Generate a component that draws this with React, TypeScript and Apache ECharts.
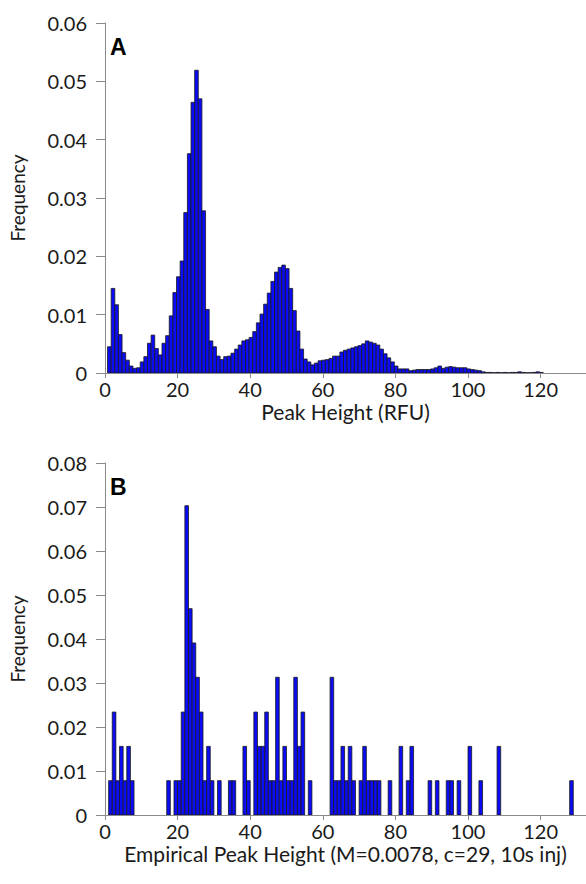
import React, { useEffect, useRef } from 'react';
import * as echarts from 'echarts';

// Panel A: simulated peak-height histogram (bins of 1 RFU, starting at bin 1)
const binStartA = 1;
const freqA = [
  0.0045, 0.0145, 0.0117, 0.0066, 0.0035, 0.0022, 0.0012, 0.0008, 0.0009, 0.0019,
  0.0028, 0.0051, 0.0065, 0.0042, 0.0031, 0.0051, 0.0064, 0.0098, 0.0138, 0.0165,
  0.0192, 0.0275, 0.0376, 0.0464, 0.0519, 0.0470, 0.0278, 0.0109, 0.0055, 0.0045,
  0.0029, 0.0023, 0.0028, 0.0029, 0.0034, 0.0041, 0.0048, 0.0055, 0.0057, 0.0061,
  0.0071, 0.0086, 0.0101, 0.0118, 0.0137, 0.0157, 0.0173, 0.0181, 0.0185, 0.0179,
  0.0145, 0.0107, 0.0072, 0.0041, 0.0024, 0.0019, 0.0014, 0.0017, 0.0021, 0.0022,
  0.0023, 0.0025, 0.0029, 0.0029, 0.0036, 0.0039, 0.0041, 0.0043, 0.0045, 0.0047,
  0.0050, 0.0055, 0.0053, 0.0051, 0.0048, 0.0041, 0.0033, 0.0026, 0.0019, 0.0012,
  0.0007, 0.0007, 0.0007, 0.0004, 0.0005, 0.0006, 0.0006, 0.0006, 0.0006, 0.0007,
  0.0009, 0.0012, 0.0008, 0.0010, 0.0011, 0.0010, 0.0009, 0.0009, 0.0009, 0.0007,
  0.0006, 0.0005, 0.0004, 0.0002, 0.0001, 0.0001, 0.00005, 0.0001, 0.00005, 0.0001,
  0.00005, 0.0001, 0.0001, 0.0002, 0.0001, 0.00005, 0.00005, 0.0001, 0.0002, 0.0001,
];

// Panel B: empirical peak heights (bin left edges and frequencies)
const binsB = [
  1, 2, 3, 4, 5, 6, 7, 17, 19, 20, 21, 22, 23, 24, 25, 26, 27, 28, 29, 31,
  34, 35, 38, 39, 41, 42, 43, 44, 45, 46, 47, 48, 49, 50, 51, 52, 53, 54, 56,
  62, 63, 64, 65, 66, 67, 68, 70, 71, 72, 73, 74, 75, 78, 81, 83, 84, 89, 91,
  94, 95, 97, 100, 103, 108, 128,
];
const freqB = [
  0.0078, 0.0234, 0.0078, 0.0156, 0.0078, 0.0156, 0.0078, 0.0078, 0.0078, 0.0078,
  0.0234, 0.0703, 0.0469, 0.0391, 0.0313, 0.0234, 0.0078, 0.0156, 0.0078, 0.0078,
  0.0078, 0.0078, 0.0156, 0.0078, 0.0234, 0.0156, 0.0156, 0.0234, 0.0078, 0.0078,
  0.0313, 0.0078, 0.0156, 0.0078, 0.0078, 0.0313, 0.0156, 0.0234, 0.0078,
  0.0313, 0.0078, 0.0078, 0.0156, 0.0078, 0.0156, 0.0078, 0.0078, 0.0156, 0.0078,
  0.0078, 0.0078, 0.0078, 0.0078, 0.0156, 0.0078, 0.0156, 0.0078, 0.0078,
  0.0078, 0.0078, 0.0078, 0.0156, 0.0078, 0.0156, 0.0078,
];

const yMaxA = 0.06;
const yMaxB = 0.08;
const yStep = 0.01;
const xMax = 132.5;
const xStep = 20;
const titleA = 'Peak Height (RFU)';
const titleB = 'Empirical Peak Height (M=0.0078, c=29, 10s inj)';
const yTitle = 'Frequency';

const FONT = 'Lato';
const AXIS_COLOR = '#8a8a8a';
const TEXT_COLOR = '#1a1a1a';

const makeRender = (lo: number, hi: number) => (params: any, api: any) => {
  const x = api.value(0);
  const y = api.value(1);
  const p0 = api.coord([x + lo, y]);
  const p1 = api.coord([x + hi, 0]);
  return {
    type: 'rect',
    shape: { x: p0[0], y: p0[1], width: p1[0] - p0[0], height: p1[1] - p0[1] },
    style: { fill: '#0b0bf5', stroke: '#1a1a1a', lineWidth: 0.8 },
  };
};

export default function App() {
  const ref = useRef<HTMLDivElement>(null);
  useEffect(() => {
    const chart = echarts.init(ref.current!, null, { renderer: 'svg' });
    const dataA = freqA.map((v, i) => [binStartA + i, v]);
    const dataB = binsB.map((b, i) => [b, freqB[i]]);

    const xAxisBase = (gridIndex: number, name: string) => ({
      type: 'value',
      gridIndex,
      min: 0,
      max: xMax,
      interval: xStep,
      name,
      nameLocation: 'middle',
      nameGap: 28,
      nameTextStyle: { fontFamily: FONT, fontSize: 21, color: TEXT_COLOR },
      axisLine: { show: true, onZero: false, lineStyle: { color: AXIS_COLOR, width: 1 } },
      axisTick: { show: true, length: 5, lineStyle: { color: AXIS_COLOR } },
      axisLabel: {
        fontFamily: FONT,
        fontSize: 20,
        color: TEXT_COLOR,
        margin: 6,
        showMaxLabel: false,
        formatter: (v: number) => (v % xStep === 0 ? String(v) : ''),
      },
      splitLine: { show: false },
    });
    const topAxis = (gridIndex: number) => ({
      type: 'value',
      gridIndex,
      position: 'top',
      min: 0,
      max: xMax,
      axisLine: { show: true, lineStyle: { color: AXIS_COLOR, width: 1 } },
      axisTick: { show: false },
      axisLabel: { show: false },
      splitLine: { show: false },
    });
    const yAxisBase = (gridIndex: number, max: number) => ({
      type: 'value',
      gridIndex,
      min: 0,
      max,
      interval: yStep,
      name: yTitle,
      nameLocation: 'middle',
      nameGap: 78,
      nameTextStyle: { fontFamily: FONT, fontSize: 19, color: TEXT_COLOR },
      axisLine: { show: true, lineStyle: { color: AXIS_COLOR, width: 1 } },
      axisTick: { show: true, length: 9, lineStyle: { color: AXIS_COLOR } },
      axisLabel: {
        fontFamily: FONT,
        fontSize: 20,
        color: TEXT_COLOR,
        margin: 18,
        formatter: (v: number) => (v === 0 ? '0' : v.toFixed(2)),
      },
      splitLine: { show: false },
    });

    chart.setOption({
      animation: false,
      backgroundColor: '#ffffff',
      grid: [
        { left: 99, top: 23, right: 0, height: 350 },
        { left: 99, top: 463, right: 0, height: 352 },
      ],
      xAxis: [xAxisBase(0, titleA), xAxisBase(1, titleB), topAxis(0), topAxis(1)],
      yAxis: [yAxisBase(0, yMaxA), yAxisBase(1, yMaxB)],
      series: [
        {
          type: 'custom',
          xAxisIndex: 0,
          yAxisIndex: 0,
          renderItem: makeRender(-0.3, 0.7),
          encode: { x: 0, y: 1 },
          data: dataA,
          clip: true,
        },
        {
          type: 'custom',
          xAxisIndex: 1,
          yAxisIndex: 1,
          renderItem: makeRender(0, 1),
          encode: { x: 0, y: 1 },
          data: dataB,
          clip: true,
        },
      ],
      graphic: [
        {
          type: 'text',
          left: 110,
          top: 35,
          style: { text: 'A', fontFamily: 'Liberation Sans', fontWeight: 'bold', fontSize: 23, fill: '#000' },
        },
        {
          type: 'text',
          left: 110,
          top: 475,
          style: { text: 'B', fontFamily: 'Liberation Sans', fontWeight: 'bold', fontSize: 23, fill: '#000' },
        },
      ],
    });
    return () => chart.dispose();
  }, []);
  return <div ref={ref} style={{ position: 'absolute', left: 0, top: 0, width: 586, height: 884 }} />;
}
